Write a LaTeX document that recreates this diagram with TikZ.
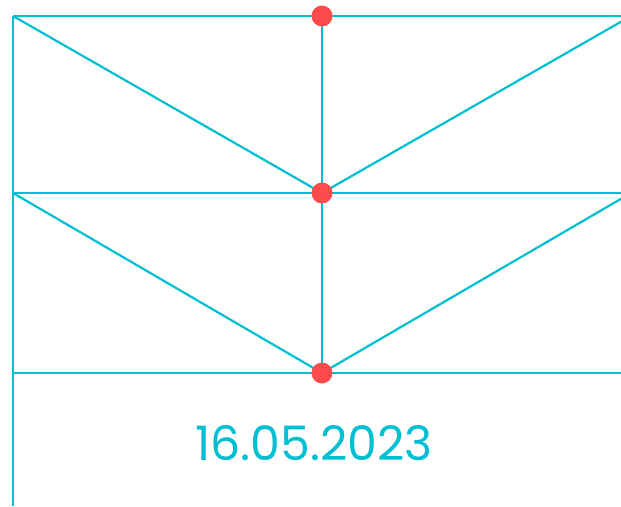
\documentclass[tikz,border=0pt]{standalone}
\usepackage{fontspec}
\setmainfont{Poppins}
\definecolor{gridcyan}{HTML}{00BFD3}
\definecolor{dotred}{HTML}{FF4B4B}
\begin{document}
\begin{tikzpicture}[x=1pt, y=-1pt,
    rail/.style={draw=gridcyan, line width=2.2pt},
    joint/.style={circle, fill=dotred, inner sep=0pt, minimum size=21pt}]
  \useasboundingbox (0,0) rectangle (621,506);
  \clip (0,0) rectangle (621,506);
  % Frame
  \coordinate (tl) at (13,16);  \coordinate (tr) at (621,16);
  \coordinate (ml) at (13,193); \coordinate (mr) at (621,193);
  \coordinate (bl) at (13,373); \coordinate (br) at (621,373);
  \coordinate (foot) at (13,506);
  \coordinate (rt) at (631,16); \coordinate (rm) at (631,193);
  \draw[rail] (tl) -- (tr);
  \draw[rail] (ml) -- (mr);
  \draw[rail] (bl) -- (br);
  \draw[rail] (tl) -- (foot);
  % Joints
  \coordinate (top) at (322,16);
  \coordinate (mid) at (322,193);
  \coordinate (bot) at (322,373);
  \draw[rail] (top) -- (bot);
  \draw[rail] (tl) -- (mid) -- (rt);
  \draw[rail] (ml) -- (bot) -- (rm);
  \foreach \j in {top,mid,bot}
    \node[joint] (\j dot) at (\j) {};
  % Date
  \node[text=gridcyan, font=\fontsize{47.5}{50}\selectfont] (date) at (314,443) {16.05.2023};
\end{tikzpicture}
\end{document}
